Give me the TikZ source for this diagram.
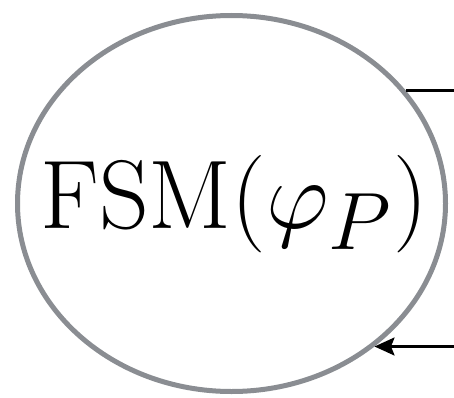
\documentclass[tikz,border=0pt]{standalone}
\usetikzlibrary{shapes.geometric,arrows.meta}
\definecolor{ringgray}{RGB}{138,141,146}
\begin{document}
\begin{tikzpicture}[x=1pt,y=1pt,
  ring/.style={draw=ringgray,line width=5pt,ellipse,minimum width=428pt,minimum height=376pt,inner sep=0pt},
  conn/.style={draw=black,line width=2.4pt},
  bigtext/.style={inner sep=0pt,anchor=base,font=\Huge,scale=3.92,transform shape}]
\useasboundingbox (0,0) rectangle (454,397);
\node[ring] (e) at (231.5,193.5) {};
\node[bigtext] (t) at (234,169) {$\mathrm{FSM}(\varphi_P)$};
\coordinate (r) at (454,0);
\draw[conn] (e.33.5) -- (e.33.5 -| r);
\draw[conn,-{Stealth[length=20pt,width=18pt,inset=3.5pt]}] (e.-45.8 -| r) -- (e.-45.8);
\end{tikzpicture}
\end{document}
